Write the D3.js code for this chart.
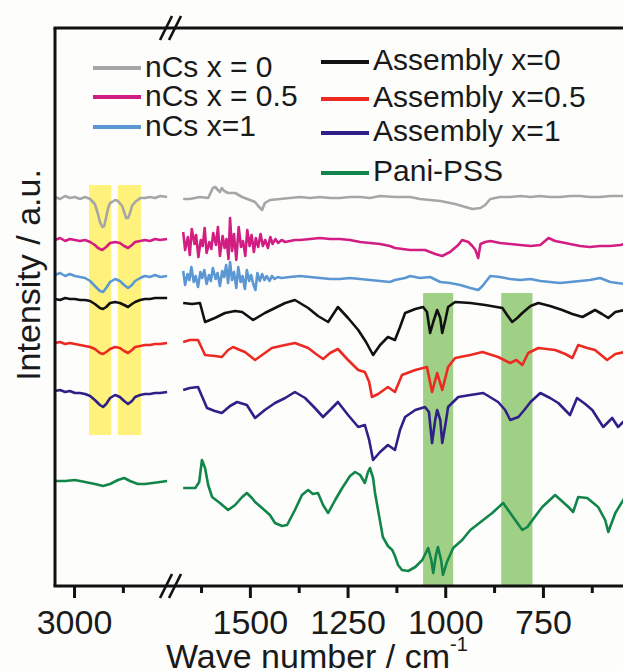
<!DOCTYPE html>
<html>
<head>
<meta charset="utf-8">
<script src="https://cdn.jsdelivr.net/npm/d3@7"></script>
<style>
  body { margin: 0; background: #fdfdfb; }
  svg { display: block; }
  text { font-family: Arial, "Liberation Sans", sans-serif; fill: #1a1a1a; }
</style>
</head>
<body>
<div id="chart"></div>
<script>
// ---- data: [wave number, intensity a.u.] ----
// left window (C-H stretch region)
const grayLeft = [[3050,38.9],[3037,38.7],[3024,39.0],[3012,38.8],[2999,38.9],[2986,38.7],[2973,38.9],[2960,38.7],[2948,38.2],[2940,37.2],[2935,36.4],[2929,35.9],[2924,36.0],[2919,36.9],[2914,37.8],[2909,38.3],[2904,38.4],[2896,38.6],[2889,38.5],[2878,38.0],[2873,37.4],[2868,36.8],[2863,36.8],[2858,37.3],[2853,38.0],[2845,38.4],[2838,38.6],[2832,38.8],[2820,38.8],[2807,38.9],[2794,38.8],[2781,39.0],[2763,38.9]];
const magentaLeft = [[3050,34.6],[3037,34.8],[3024,34.5],[3012,34.7],[2999,34.6],[2986,34.5],[2973,34.6],[2960,34.4],[2948,34.1],[2940,33.8],[2929,33.6],[2919,33.9],[2909,34.3],[2896,34.4],[2884,34.3],[2873,34.0],[2863,33.8],[2853,34.1],[2845,34.4],[2832,34.5],[2820,34.6],[2807,34.5],[2794,34.7],[2781,34.6],[2763,34.7]];
const blueLeft = [[3050,31.1],[3037,31.3],[3024,31.0],[3012,31.2],[2999,31.0],[2986,30.9],[2973,30.8],[2960,30.5],[2948,30.0],[2935,29.5],[2927,29.4],[2919,29.8],[2909,30.4],[2896,30.7],[2884,30.5],[2873,30.1],[2863,29.8],[2853,30.1],[2845,30.5],[2832,30.8],[2820,31.0],[2807,30.9],[2794,31.1],[2781,30.9],[2763,31.0]];
const blackLeft = [[3050,28.7],[3037,28.6],[3024,28.8],[3012,28.7],[2999,28.7],[2986,28.6],[2973,28.6],[2960,28.5],[2948,28.2],[2935,27.8],[2927,27.7],[2919,27.9],[2909,28.3],[2896,28.4],[2884,28.3],[2873,28.1],[2863,27.9],[2853,28.2],[2845,28.4],[2832,28.6],[2820,28.7],[2807,28.7],[2794,28.8],[2781,28.8],[2763,28.8]];
const redLeft = [[3050,24.3],[3037,24.4],[3024,24.2],[3012,24.3],[2999,24.2],[2986,24.1],[2973,24.0],[2960,23.9],[2948,23.7],[2935,23.3],[2927,23.2],[2919,23.4],[2909,23.7],[2896,23.9],[2884,23.8],[2873,23.5],[2863,23.3],[2853,23.6],[2845,23.9],[2832,24.0],[2820,24.1],[2807,24.1],[2794,24.2],[2781,24.2],[2763,24.3]];
const purpleLeft = [[3050,19.5],[3037,19.6],[3024,19.4],[3012,19.5],[2999,19.3],[2986,19.3],[2973,19.2],[2960,19.0],[2948,18.6],[2935,18.1],[2927,17.9],[2919,18.2],[2909,18.8],[2896,19.1],[2884,18.9],[2873,18.5],[2863,18.2],[2853,18.5],[2845,18.9],[2832,19.1],[2820,19.2],[2807,19.2],[2794,19.3],[2781,19.3],[2763,19.4]];
const greenLeft = [[3050,10.5],[3024,10.5],[2999,10.6],[2973,10.4],[2948,10.2],[2927,10.0],[2909,10.2],[2889,10.6],[2873,10.8],[2858,10.5],[2838,10.2],[2820,10.2],[2800,10.3],[2781,10.4],[2763,10.5]];

// right window (fingerprint region)
const grayRight = [[1672,38.7],[1655,38.7],[1629,38.9],[1608,38.8],[1596,39.8],[1590,39.9],[1583,39.6],[1578,39.4],[1573,39.8],[1567,39.5],[1557,39.3],[1539,39.3],[1521,38.9],[1488,38.4],[1480,38.0],[1470,37.6],[1463,38.3],[1450,38.6],[1424,38.7],[1399,38.8],[1373,38.9],[1347,38.8],[1322,38.9],[1296,38.8],[1271,38.8],[1245,38.9],[1219,38.9],[1194,38.8],[1168,39.0],[1130,38.9],[1091,38.9],[1066,38.7],[1014,38.5],[976,38.2],[950,37.9],[932,37.7],[911,37.8],[899,38.1],[886,38.7],[861,38.9],[835,38.9],[809,39.0],[783,38.9],[758,39.0],[733,38.9],[707,38.9],[682,39.0],[656,39.0],[631,38.9],[605,38.9],[579,39.0],[541,39.0]];
const magentaRight = [[1672,35.4],[1667,33.6],[1660,34.9],[1655,33.1],[1650,35.7],[1643,34.2],[1639,35.1],[1633,32.9],[1627,34.6],[1622,34.0],[1617,35.8],[1612,33.3],[1605,34.4],[1600,33.7],[1595,35.3],[1588,34.1],[1583,35.9],[1578,33.0],[1571,35.0],[1566,33.8],[1561,34.7],[1556,32.7],[1552,36.8],[1547,33.5],[1542,35.2],[1536,32.6],[1530,35.9],[1524,33.9],[1519,34.5],[1513,33.0],[1508,35.6],[1502,34.0],[1497,35.1],[1491,33.4],[1486,34.8],[1480,33.9],[1474,35.2],[1468,34.0],[1462,34.6],[1455,33.8],[1449,34.9],[1443,34.2],[1436,34.7],[1429,34.3],[1420,34.6],[1411,34.4],[1399,34.5],[1386,34.6],[1373,34.6],[1347,34.7],[1322,34.8],[1296,34.7],[1271,34.7],[1245,34.6],[1219,34.4],[1194,34.3],[1168,34.2],[1143,34.0],[1130,33.8],[1091,33.6],[1053,33.6],[1040,33.4],[1027,33.2],[1009,33.0],[989,33.4],[968,34.1],[958,34.6],[942,34.4],[932,34.0],[924,33.6],[917,32.8],[911,34.2],[899,34.4],[886,34.5],[861,34.3],[835,34.2],[809,34.1],[783,34.0],[758,34.1],[737,34.8],[720,34.5],[694,34.3],[682,34.2],[656,34.0],[631,33.9],[605,34.0],[579,34.0],[553,34.1],[541,34.2]];
const blueRight = [[1672,31.5],[1667,30.1],[1661,31.2],[1656,30.6],[1651,31.9],[1645,30.4],[1640,31.0],[1634,29.9],[1628,31.4],[1623,30.8],[1618,31.6],[1612,30.2],[1606,31.1],[1601,30.5],[1596,31.8],[1589,30.7],[1584,31.3],[1578,30.0],[1572,31.5],[1567,30.9],[1562,32.1],[1557,30.3],[1552,32.4],[1547,30.6],[1542,31.4],[1536,29.8],[1531,31.9],[1525,30.4],[1520,31.0],[1514,29.7],[1509,31.6],[1503,30.5],[1498,31.1],[1492,30.1],[1487,29.6],[1482,31.3],[1476,30.5],[1470,31.2],[1464,30.6],[1458,31.0],[1451,30.5],[1445,31.0],[1438,30.7],[1430,30.9],[1420,30.8],[1399,30.9],[1373,31.0],[1347,30.9],[1322,30.8],[1296,30.7],[1271,30.7],[1245,30.8],[1219,30.7],[1194,30.6],[1168,30.5],[1143,30.4],[1130,30.6],[1104,30.8],[1091,31.0],[1066,30.8],[1040,30.9],[1014,30.4],[989,30.3],[963,30.1],[937,29.8],[917,29.6],[906,30.0],[886,31.0],[861,30.9],[835,30.7],[809,30.6],[783,30.7],[758,30.5],[733,30.4],[707,30.3],[682,30.4],[656,30.5],[631,30.6],[605,30.8],[579,30.4],[541,30.2]];
const blackRight = [[1672,28.3],[1649,28.2],[1629,28.3],[1616,26.4],[1591,26.8],[1565,27.3],[1539,27.5],[1521,27.4],[1493,26.6],[1463,27.3],[1437,27.8],[1411,28.3],[1386,28.6],[1352,27.8],[1327,27.0],[1301,26.4],[1276,27.9],[1250,26.8],[1224,25.6],[1204,24.4],[1186,23.1],[1168,24.1],[1148,24.9],[1130,24.6],[1117,25.9],[1104,27.3],[1078,27.7],[1058,27.9],[1048,27.4],[1040,25.3],[1032,26.4],[1022,27.6],[1014,26.8],[1009,25.3],[1001,26.6],[994,27.9],[976,28.4],[937,28.3],[899,28.1],[855,27.8],[843,27.1],[830,26.4],[817,26.8],[804,27.3],[783,28.0],[763,28.3],[733,28.0],[702,27.6],[676,27.2],[650,26.9],[618,27.6],[600,27.2],[584,26.8],[566,27.4],[541,27.6]];
const redRight = [[1672,24.4],[1655,24.6],[1634,24.6],[1616,23.1],[1591,23.0],[1573,22.9],[1557,23.6],[1544,23.9],[1527,23.6],[1514,23.4],[1488,22.6],[1470,23.1],[1445,23.8],[1411,24.1],[1386,24.3],[1352,23.8],[1332,23.2],[1314,22.7],[1296,23.3],[1276,23.7],[1250,22.6],[1224,21.6],[1207,21.4],[1196,20.4],[1189,18.9],[1173,19.2],[1148,19.9],[1130,19.4],[1112,21.1],[1078,21.6],[1048,21.9],[1035,19.4],[1022,21.3],[1009,19.6],[994,21.9],[976,22.8],[937,23.1],[906,23.4],[866,22.9],[835,22.3],[819,22.6],[804,22.1],[789,23.3],[763,23.8],[720,23.6],[694,23.2],[676,22.8],[661,24.1],[638,23.8],[618,23.6],[587,22.6],[566,23.2],[541,23.4]];
const purpleRight = [[1672,19.6],[1655,19.8],[1634,19.9],[1611,17.8],[1591,17.5],[1573,17.3],[1552,18.0],[1534,18.4],[1509,18.1],[1488,16.8],[1463,17.6],[1437,18.3],[1411,18.8],[1386,19.4],[1360,18.8],[1335,17.8],[1314,16.9],[1296,17.6],[1276,18.4],[1250,17.1],[1224,15.9],[1207,16.1],[1196,14.6],[1186,12.6],[1168,13.4],[1148,14.1],[1130,13.6],[1117,15.6],[1104,16.9],[1078,17.6],[1053,17.9],[1043,17.4],[1035,14.3],[1027,16.6],[1022,17.6],[1014,16.6],[1009,14.3],[1001,16.1],[994,17.9],[968,18.9],[937,19.1],[904,19.3],[866,18.4],[848,17.6],[835,16.6],[814,16.9],[799,17.6],[783,18.4],[758,19.3],[733,18.8],[712,18.3],[682,17.1],[664,18.8],[643,18.2],[625,17.6],[597,15.9],[574,16.8],[559,15.9],[541,16.6]];
const greenRight = [[1672,9.8],[1641,9.8],[1631,10.4],[1624,12.6],[1616,11.8],[1608,10.1],[1598,8.9],[1578,8.3],[1557,7.6],[1539,8.1],[1521,8.9],[1509,9.3],[1496,8.8],[1488,8.4],[1470,7.8],[1450,7.1],[1437,6.3],[1419,6.0],[1406,6.1],[1386,7.6],[1368,9.1],[1352,9.6],[1340,9.2],[1327,9.3],[1314,8.1],[1301,7.3],[1283,8.6],[1265,9.8],[1245,11.0],[1232,11.4],[1219,11.1],[1207,10.3],[1199,11.4],[1194,11.8],[1186,10.8],[1181,9.3],[1171,7.1],[1161,4.9],[1148,4.0],[1137,3.6],[1130,3.0],[1122,2.1],[1112,1.6],[1096,1.5],[1078,1.9],[1060,2.6],[1045,3.8],[1037,2.6],[1032,1.3],[1025,3.1],[1020,3.9],[1012,2.6],[1007,1.1],[997,2.4],[981,3.8],[958,4.6],[937,5.6],[881,7.3],[853,8.3],[835,7.3],[804,5.6],[791,5.9],[778,6.6],[753,7.9],[720,9.1],[686,7.9],[674,7.4],[661,8.9],[638,8.8],[610,7.9],[592,6.6],[584,5.4],[566,7.3],[541,8.9]];

const seriesNames = ["nCs x = 0", "nCs x = 0.5", "nCs x=1", "Assembly x=0", "Assembly x=0.5", "Assembly x=1", "Pani-PSS"];
const leftData = [grayLeft, magentaLeft, blueLeft, blackLeft, redLeft, purpleLeft, greenLeft];
const rightData = [grayRight, magentaRight, blueRight, blackRight, redRight, purpleRight, greenRight];
const colors = ["#a6a6a6", "#d21e82", "#5b97d2", "#111111", "#ec2a22", "#2f1f88", "#12864a"];

// highlighted bands [from, to] in wave number, vertical span in a.u.
const yellowBands = [[2963, 2906], [2889, 2830]];
const yellowSpan = [15.1, 40.1];
const greenBands = [[1058, 981], [858, 778]];
const greenSpan = [0, 29.3];

const majorTicks = [3000, 1500, 1250, 1000, 750];
const minorTicks = [2875, 1625, 1375, 1125, 875, 625];

// ---- layout ----
const W = 623, H = 671;
const plotLeft = 55, plotTop = 28, plotBottom = 586, breakX = 170;

const svg = d3.select("#chart").append("svg")
    .attr("width", W)
    .attr("height", H);

// two x windows with the same cm-1 per pixel
const xLeft = d3.scaleLinear().domain([3050, 2760]).range([55, 168.3]);
const xRight = d3.scaleLinear().domain([1675, 520]).range([182, 633.3]);
const y = d3.scaleLinear().domain([0, 55.8]).range([plotBottom, plotTop]);
const xFor = v => (v > 2000 ? xLeft : xRight);

// bands
svg.append("g").selectAll("rect")
    .data(yellowBands)
    .join("rect")
    .attr("x", d => xLeft(d[0]))
    .attr("width", d => xLeft(d[1]) - xLeft(d[0]))
    .attr("y", y(yellowSpan[1]))
    .attr("height", y(yellowSpan[0]) - y(yellowSpan[1]))
    .attr("fill", "#fff27c");

svg.append("g").selectAll("rect")
    .data(greenBands)
    .join("rect")
    .attr("x", d => xRight(d[0]))
    .attr("width", d => xRight(d[1]) - xRight(d[0]))
    .attr("y", y(greenSpan[1]))
    .attr("height", y(greenSpan[0]) - y(greenSpan[1]))
    .attr("fill", "#a0cf86");

// spectra
const lineLeft = d3.line().x(d => xLeft(d[0])).y(d => y(d[1]));
const lineRight = d3.line().x(d => xRight(d[0])).y(d => y(d[1]));

const curves = svg.append("g")
    .attr("fill", "none")
    .attr("stroke-width", 2.6)
    .attr("stroke-linejoin", "round");

leftData.forEach((s, i) => {
    curves.append("path").attr("d", lineLeft(s)).attr("stroke", colors[i]);
});
rightData.forEach((s, i) => {
    curves.append("path").attr("d", lineRight(s)).attr("stroke", colors[i]);
});

// frame
const frame = svg.append("g").attr("stroke", "#111").attr("stroke-width", 3).attr("fill", "none");
frame.append("path").attr("d", `M${plotLeft},${plotTop}V${plotBottom}`);
frame.append("path").attr("d", `M${plotLeft - 1.5},${plotTop}H${W}`);
frame.append("path").attr("d", `M${plotLeft - 1.5},${plotBottom}H${W}`);

// axis break marks
[plotTop, plotBottom].forEach(yy => {
    [-4, 5].forEach(dx => {
        frame.append("path")
            .attr("stroke-width", 2.6)
            .attr("d", `M${breakX + dx - 6},${yy + 12}L${breakX + dx + 6},${yy - 12}`);
    });
});

// ticks
const tickG = svg.append("g").attr("stroke", "#111").attr("stroke-width", 3);
tickG.selectAll(".maj")
    .data(majorTicks)
    .join("line")
    .attr("x1", d => xFor(d)(d)).attr("x2", d => xFor(d)(d))
    .attr("y1", plotBottom).attr("y2", plotBottom + 12);
tickG.selectAll(".min")
    .data(minorTicks)
    .join("line")
    .attr("x1", d => xFor(d)(d)).attr("x2", d => xFor(d)(d))
    .attr("y1", plotBottom).attr("y2", plotBottom + 7);

svg.append("g").selectAll("text")
    .data(majorTicks)
    .join("text")
    .attr("x", d => xFor(d)(d))
    .attr("y", 634)
    .attr("text-anchor", "middle")
    .style("font-size", "34px")
    .text(d => d);

// axis titles
const xTitle = svg.append("text")
    .attr("x", 166)
    .attr("y", 668)
    .style("font-size", "34px");
xTitle.append("tspan").text("Wave number / cm");
xTitle.append("tspan").attr("dy", -17).style("font-size", "20px").text("-1");

svg.append("text")
    .attr("transform", "translate(40,275) rotate(-90)")
    .attr("text-anchor", "middle")
    .style("font-size", "34px")
    .text("Intensity / a.u.");

// legend
const legendPos = [
    [93, 68], [93, 97], [93, 127],
    [321, 62], [321, 99], [321, 133], [321, 173]
];
const legend = svg.append("g");
seriesNames.forEach((name, i) => {
    const [lx, ly] = legendPos[i];
    legend.append("line")
        .attr("x1", lx).attr("x2", lx + 48)
        .attr("y1", ly).attr("y2", ly)
        .attr("stroke", colors[i])
        .attr("stroke-width", 4);
    legend.append("text")
        .attr("x", lx + 52)
        .attr("y", ly + (i < 3 ? 9 : 8))
        .style("font-size", "30px")
        .text(name);
});
</script>
</body>
</html>
